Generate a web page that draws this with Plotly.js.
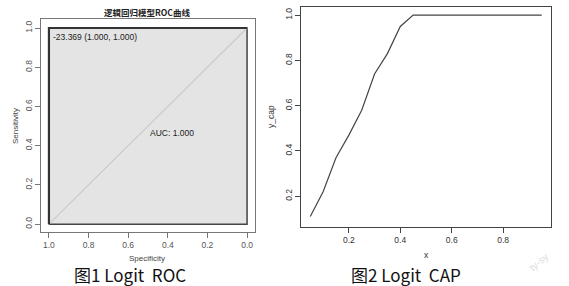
<!DOCTYPE html>
<html><head><meta charset="utf-8">
<script src="https://cdn.plot.ly/plotly-3.0.1.min.js"></script>
<style>html,body{margin:0;padding:0;background:#fff;}#c{width:569px;height:286px;}</style>
</head><body><div id="c"></div>
<script>
// ROC data (specificity, sensitivity)
const rocSpec = [1.0, 1.0, 0.0];
const rocSens = [0.0, 1.0, 1.0];
const polySpec = [1.0, 1.0, 0.0, 0.0, 1.0];
const polySens = [0.0, 1.0, 1.0, 0.0, 0.0];
const diagSpec = [1.0, 0.0];
const diagSens = [0.0, 1.0];
const aucLabel = "AUC: 1.000";
const thrLabel = "-23.369 (1.000, 1.000)";
const rocTicks = [0, 0.2, 0.4, 0.6, 0.8, 1.0];
// CAP data
const capX = [0.05,0.10,0.15,0.20,0.25,0.30,0.35,0.40,0.45,0.50,0.55,0.60,0.65,0.70,0.75,0.80,0.85,0.90,0.95];
const capY = [0.11,0.22,0.37,0.47,0.58,0.74,0.83,0.95,1.0,1.0,1.0,1.0,1.0,1.0,1.0,1.0,1.0,1.0,1.0];
const capXTicks = [0.2,0.4,0.6,0.8];
const capYTicks = [0.2,0.4,0.6,0.8,1.0];

const W = 569, H = 286;
const px = v => v / W, py = v => 1 - v / H;
const tickF = {family: "Liberation Sans, Arial, sans-serif", size: 8.5, color: "#555"};
const tickF2 = {family: "Liberation Sans, Arial, sans-serif", size: 8.5, color: "#333"};

const traces = [
  {x: polySpec, y: polySens, xaxis: "x", yaxis: "y", mode: "lines", fill: "toself",
   fillcolor: "#e4e4e4", line: {color: "#444", width: 1.5}, hoverinfo: "skip"},
  {x: diagSpec, y: diagSens, xaxis: "x", yaxis: "y", mode: "lines",
   line: {color: "#cbcbcb", width: 1.2}, hoverinfo: "skip"},
  {x: rocSpec, y: rocSens, xaxis: "x", yaxis: "y", mode: "lines",
   line: {color: "#333", width: 2.2}, hoverinfo: "skip"},
  {x: capX, y: capY, xaxis: "x2", yaxis: "y2", mode: "lines",
   line: {color: "#444", width: 1.2}, hoverinfo: "skip"}
];

const baseAx = {showgrid: false, zeroline: false, showline: true, mirror: true,
  ticks: "outside", ticklen: 5, tickwidth: 1, fixedrange: true};

function ann(o) { return Object.assign({xref: "paper", yref: "paper", showarrow: false, xanchor: "center", yanchor: "middle"}, o); }

const layout = {
  width: W, height: H, margin: {l: 0, r: 0, t: 0, b: 0},
  paper_bgcolor: "#fff", plot_bgcolor: "#fff", showlegend: false,
  xaxis: Object.assign({}, baseAx, {domain: [px(41), px(255)], range: [1.04, -0.04],
    tickvals: rocTicks, tickformat: ".1f", linecolor: "#777", tickcolor: "#777", tickfont: tickF, anchor: "y"}),
  yaxis: Object.assign({}, baseAx, {domain: [py(232), py(19)], range: [-0.04, 1.046],
    tickvals: rocTicks, tickformat: ".1f", tickangle: -90, linecolor: "#777", tickcolor: "#777", tickfont: tickF, anchor: "x"}),
  xaxis2: Object.assign({}, baseAx, {domain: [px(301), px(551)], range: [0.014, 0.986],
    tickvals: capXTicks, tickformat: ".1f", linecolor: "#444", tickcolor: "#444", tickfont: tickF2, anchor: "y2"}),
  yaxis2: Object.assign({}, baseAx, {domain: [py(227), py(7)], range: [0.064, 1.036],
    tickvals: capYTicks, tickformat: ".1f", tickangle: -90, linecolor: "#444", tickcolor: "#444", tickfont: tickF2, anchor: "x2"}),
  annotations: [
    ann({text: "<b>逻辑回归模型ROC曲线</b>", x: px(147), y: py(12),
     font: {family: "Noto Sans CJK SC, sans-serif", size: 8.5, color: "#222"}}),
    ann({text: thrLabel, xref: "x", yref: "y", x: 0.99, y: 0.99, xanchor: "left", yanchor: "top",
     font: {family: "Liberation Sans, Arial, sans-serif", size: 8.5, color: "#222"}}),
    ann({text: aucLabel, xref: "x", yref: "y", x: 0.5, y: 0.5, xanchor: "left", yanchor: "top",
     font: {family: "Liberation Sans, Arial, sans-serif", size: 8.5, color: "#222"}}),
    ann({text: "Specificity", x: px(147), y: py(258),
     font: {family: "Liberation Sans, Arial, sans-serif", size: 8, color: "#444"}}),
    ann({text: "Sensitivity", x: px(15), y: py(126), textangle: -90,
     font: {family: "Liberation Sans, Arial, sans-serif", size: 8, color: "#444"}}),
    ann({text: "x", x: px(426), y: py(255),
     font: {family: "Liberation Sans, Arial, sans-serif", size: 8.5, color: "#333"}}),
    ann({text: "y_cap", x: px(271), y: py(117), textangle: -90,
     font: {family: "Liberation Sans, Arial, sans-serif", size: 8.5, color: "#333"}}),
    ann({text: "图1&nbsp;Logit&nbsp; ROC", x: px(130), y: py(274),
     font: {family: "Noto Sans CJK SC, sans-serif", size: 17, color: "#111"}}),
    ann({text: "图2&nbsp;Logit&nbsp; CAP", x: px(406), y: py(274),
     font: {family: "Noto Sans CJK SC, sans-serif", size: 17, color: "#111"}}),
    ann({text: "ty-sy", x: px(538), y: py(262), textangle: -40,
     font: {family: "Liberation Sans, Arial, sans-serif", size: 10, color: "#dcdcdc"}})
  ]
};
Plotly.newPlot("c", traces, layout, {displayModeBar: false, staticPlot: true});
</script></body></html>
